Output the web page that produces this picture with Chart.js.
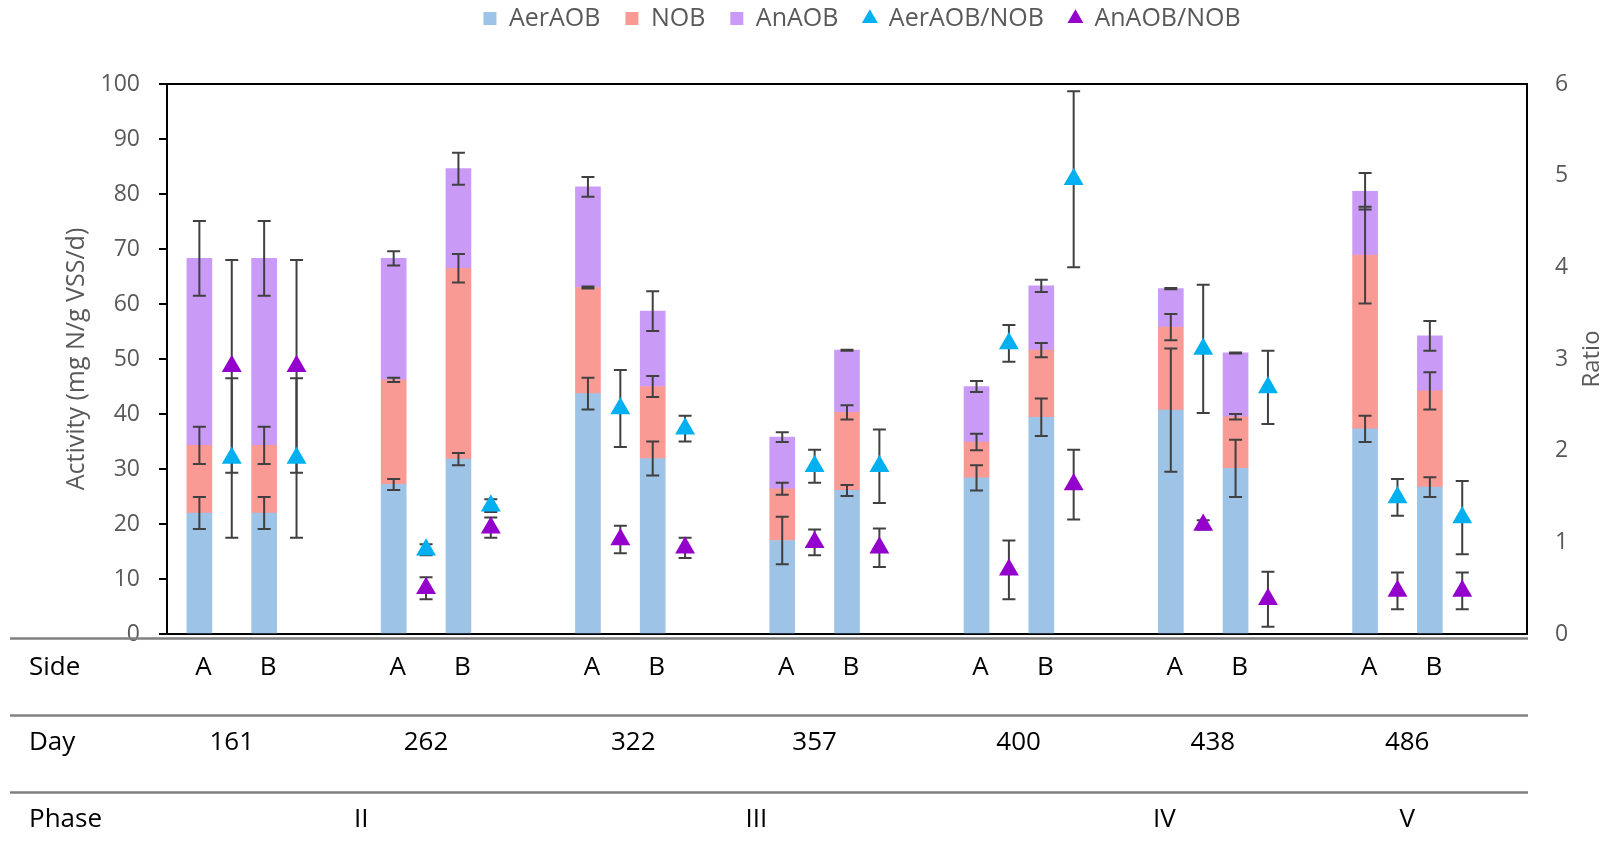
<!DOCTYPE html>
<html>
<head>
<meta charset="utf-8">
<script src="https://cdn.jsdelivr.net/npm/chart.js@4.4.1/dist/chart.umd.min.js"></script>
<style>
  html, body { margin: 0; padding: 0; background: #fff; }
  #wrap { width: 1612px; height: 868px; }
</style>
</head>
<body>
<div id="wrap"><canvas id="activityChart" width="1612" height="868"></canvas></div>
<script>
// sampling days, sides and phases
const days = [161, 262, 322, 357, 400, 438, 486];
const sides = ['A', 'B'];
const phases = ['II', 'III', 'IV', 'V'];

// activity segments (mg N/g VSS/d), order: day161 A, day161 B, day262 A, ...
const aerAOB = [22.0, 22.0, 27.2, 31.8, 43.7, 31.9, 17.0, 26.1, 28.4, 39.4, 40.7, 30.1, 37.3, 26.7];
const nob    = [12.3, 12.3, 19.0, 34.7, 19.3, 13.1,  9.4, 14.2,  6.5, 12.2, 15.1,  9.4, 31.6, 17.5];
const anAOB  = [34.0, 34.0, 22.1, 18.1, 18.3, 13.7,  9.4, 11.3, 10.1, 11.7,  7.0, 11.6, 11.6, 10.0];
const aerAOBErr = [2.9, 2.9, 1.0, 1.1, 2.9, 3.1, 4.3, 1.0, 2.3, 3.4, 11.2, 5.2, 2.4, 1.8];
const nobErr    = [3.4, 3.4, 0.4, 2.6, 0.2, 1.9, 1.1, 1.3, 1.5, 1.3, 2.4, 0.5, 8.8, 3.4];
const anAOBErr  = [6.8, 6.8, 1.3, 2.9, 1.8, 3.6, 0.9, 0.1, 1.0, 1.1, 0.1, 0.1, 3.3, 2.7];

// ratios, same order
const aerNobRatio = [1.92, 1.92, 0.92, 1.40, 2.46, 2.24, 1.83, 1.83, 3.17, 4.96, 3.11, 2.69, 1.49, 1.27];
const aerNobErr   = [0.87, 0.87, 0.06, 0.07, 0.42, 0.14, 0.18, 0.40, 0.20, 0.96, 0.70, 0.40, 0.20, 0.40];
const anNobRatio  = [2.92, 2.92, 0.50, 1.16, 1.03, 0.94, 1.00, 0.94, 0.70, 1.63, 1.19, 0.38, 0.47, 0.47];
const anNobErr    = [1.16, 1.16, 0.12, 0.11, 0.15, 0.11, 0.14, 0.21, 0.32, 0.38, 0.05, 0.30, 0.20, 0.20];

// layout: each day takes 6 slots on the x axis (A bar, A ratio, B bar, B ratio, gap, gap)
const SLOTS = 6;
const daySlot = [2.0, 8.0, 14.4, 20.0, 26.3, 32.3, 38.3];
const phaseSlot = [6.0, 18.2, 30.8, 38.3];

const barX = k => Math.floor(k / 2) * SLOTS + 1 + (k % 2) * 2;
const ratioX = k => barX(k) + 1;
const toBars = vals => vals.map((v, k) => ({ x: barX(k), y: v }));
const toRatio = vals => vals.map((v, k) => ({ x: ratioX(k), y: v }));

const FONT = "'Open Sans', sans-serif";
const GREY = '#595959';

// error bars: drawn after the bars and before the triangles
const errorBarPlugin = {
    id: 'errorBars',
    beforeDraw(chart) { chart.$errDone = false; },
    beforeDatasetDraw(chart, args) {
        if (chart.$errDone || args.meta.type !== 'scatter') return;
        chart.$errDone = true;
        const ctx = chart.ctx;
        ctx.save();
        ctx.strokeStyle = '#404040';
        ctx.lineWidth = 2;
        chart.data.datasets.forEach((ds, i) => {
            const meta = chart.getDatasetMeta(i);
            const scale = chart.scales[meta.yAxisID];
            meta.data.forEach((el, j) => {
                const e = ds.errors[j];
                if (!e) return;
                const v = scale.getValueForPixel(el.y);
                const top = scale.getPixelForValue(v + e);
                const bot = scale.getPixelForValue(v - e);
                ctx.beginPath();
                ctx.moveTo(el.x, top); ctx.lineTo(el.x, bot);
                ctx.moveTo(el.x - 6.5, top); ctx.lineTo(el.x + 6.5, top);
                ctx.moveTo(el.x - 6.5, bot); ctx.lineTo(el.x + 6.5, bot);
                ctx.stroke();
            });
        });
        ctx.restore();
    }
};

// axis titles and the Side / Day / Phase table under the plot
const tablePlugin = {
    id: 'sideTable',
    afterDraw(chart) {
        const ctx = chart.ctx;
        const x = chart.scales.x;
        const area = chart.chartArea;
        const midY = (area.top + area.bottom) / 2;
        ctx.save();
        ctx.fillStyle = GREY;
        ctx.font = `25px ${FONT}`;
        ctx.textAlign = 'center';
        ctx.textBaseline = 'middle';
        ctx.translate(77, midY);
        ctx.rotate(-Math.PI / 2);
        ctx.fillText('Activity (mg N/g VSS/d)', 0, 0);
        ctx.restore();

        ctx.save();
        ctx.fillStyle = GREY;
        ctx.font = `24px ${FONT}`;
        ctx.textAlign = 'center';
        ctx.textBaseline = 'middle';
        ctx.translate(1592, midY);
        ctx.rotate(-Math.PI / 2);
        ctx.fillText('Ratio', 0, 0);
        ctx.restore();

        ctx.save();
        ctx.strokeStyle = '#808080';
        ctx.lineWidth = 2.5;
        [638.5, 715.5, 792.5].forEach(y => {
            ctx.beginPath();
            ctx.moveTo(10, y);
            ctx.lineTo(area.right + 1, y);
            ctx.stroke();
        });
        ctx.fillStyle = '#000';
        ctx.font = `26px ${FONT}`;
        ctx.textBaseline = 'middle';
        ctx.textAlign = 'left';
        ctx.fillText('Side', 29, 668);
        ctx.fillText('Day', 29, 743);
        ctx.fillText('Phase', 29, 820);
        ctx.textAlign = 'center';
        days.forEach((d, g) => {
            sides.forEach((s, si) => {
                ctx.fillText(s, x.getPixelForValue(barX(g * 2 + si)) + 4, 668);
            });
            ctx.fillText(String(d), x.getPixelForValue(daySlot[g]), 743);
        });
        phases.forEach((p, i) => {
            ctx.fillText(p, x.getPixelForValue(phaseSlot[i]), 820);
        });
        ctx.restore();
    }
};

document.addEventListener('DOMContentLoaded', () => {
    Chart.defaults.font.family = FONT;
    Chart.defaults.color = GREY;

    const barCommon = { type: 'bar', xAxisID: 'x', yAxisID: 'y', barThickness: 25, borderWidth: 0, order: 2 };
    const ratioCommon = { type: 'scatter', xAxisID: 'x', yAxisID: 'y2', pointStyle: 'triangle',
        pointRadius: 11.5, pointHoverRadius: 11.5, borderWidth: 0, order: 1 };

    new Chart(document.getElementById('activityChart'), {
        type: 'bar',
        data: {
            datasets: [
                { ...barCommon, label: 'AerAOB', data: toBars(aerAOB), errors: aerAOBErr, backgroundColor: '#9DC3E6' },
                { ...barCommon, label: 'NOB', data: toBars(nob), errors: nobErr, backgroundColor: '#FA9A94' },
                { ...barCommon, label: 'AnAOB', data: toBars(anAOB), errors: anAOBErr, backgroundColor: '#C99BF7' },
                { ...ratioCommon, label: 'AerAOB/NOB', data: toRatio(aerNobRatio), errors: aerNobErr, backgroundColor: '#00B0F0', borderColor: '#00B0F0' },
                { ...ratioCommon, label: 'AnAOB/NOB', data: toRatio(anNobRatio), errors: anNobErr, backgroundColor: '#9400CC', borderColor: '#9400CC' }
            ]
        },
        options: {
            responsive: false,
            animation: false,
            // negative right padding keeps the legend centred where the original has it
            layout: { padding: { top: -19, left: 0, right: -112, bottom: 0 } },
            plugins: {
                tooltip: { enabled: false },
                legend: {
                    position: 'top',
                    align: 'center',
                    labels: {
                        usePointStyle: true,
                        boxWidth: 13,
                        boxHeight: 13,
                        padding: 25,
                        color: GREY,
                        font: { size: 25 },
                        generateLabels(chart) {
                            return chart.data.datasets.map((ds, i) => ({
                                text: ds.label,
                                fillStyle: ds.backgroundColor,
                                strokeStyle: ds.backgroundColor,
                                lineWidth: 0,
                                pointStyle: ds.type === 'scatter' ? 'triangle' : 'rect',
                                fontColor: GREY,
                                hidden: false,
                                datasetIndex: i
                            }));
                        }
                    }
                }
            },
            scales: {
                x: {
                    type: 'linear', position: 'bottom', min: 0, max: days.length * SLOTS, stacked: true,
                    offset: false,
                    ticks: { display: false },
                    grid: { display: false, offset: false },
                    border: { display: true, color: '#000', width: 2 },
                    afterFit(s) { s.height = 234; }
                },
                x2: {
                    type: 'linear', position: 'top', min: 0, max: days.length * SLOTS,
                    offset: false,
                    ticks: { display: false },
                    grid: { display: false, offset: false },
                    border: { display: true, color: '#000', width: 2 },
                    afterFit(s) { s.height = 43; }
                },
                y: {
                    type: 'linear', position: 'left', stacked: true, min: 0, max: 100,
                    ticks: { stepSize: 10, padding: 19, color: GREY, font: { size: 23 } },
                    grid: { drawOnChartArea: false, drawTicks: true, tickLength: 8, color: '#000', lineWidth: 2 },
                    border: { display: true, color: '#000', width: 2 },
                    afterFit(s) { s.width = 167; }
                },
                y2: {
                    type: 'linear', position: 'right', min: 0, max: 6,
                    ticks: { stepSize: 1, padding: 28, color: GREY, font: { size: 23 } },
                    grid: { display: false, drawTicks: false },
                    border: { display: true, color: '#000', width: 2 },
                    afterFit(s) { s.width = 197; }
                }
            }
        },
        plugins: [errorBarPlugin, tablePlugin]
    });
});
</script>
</body>
</html>
